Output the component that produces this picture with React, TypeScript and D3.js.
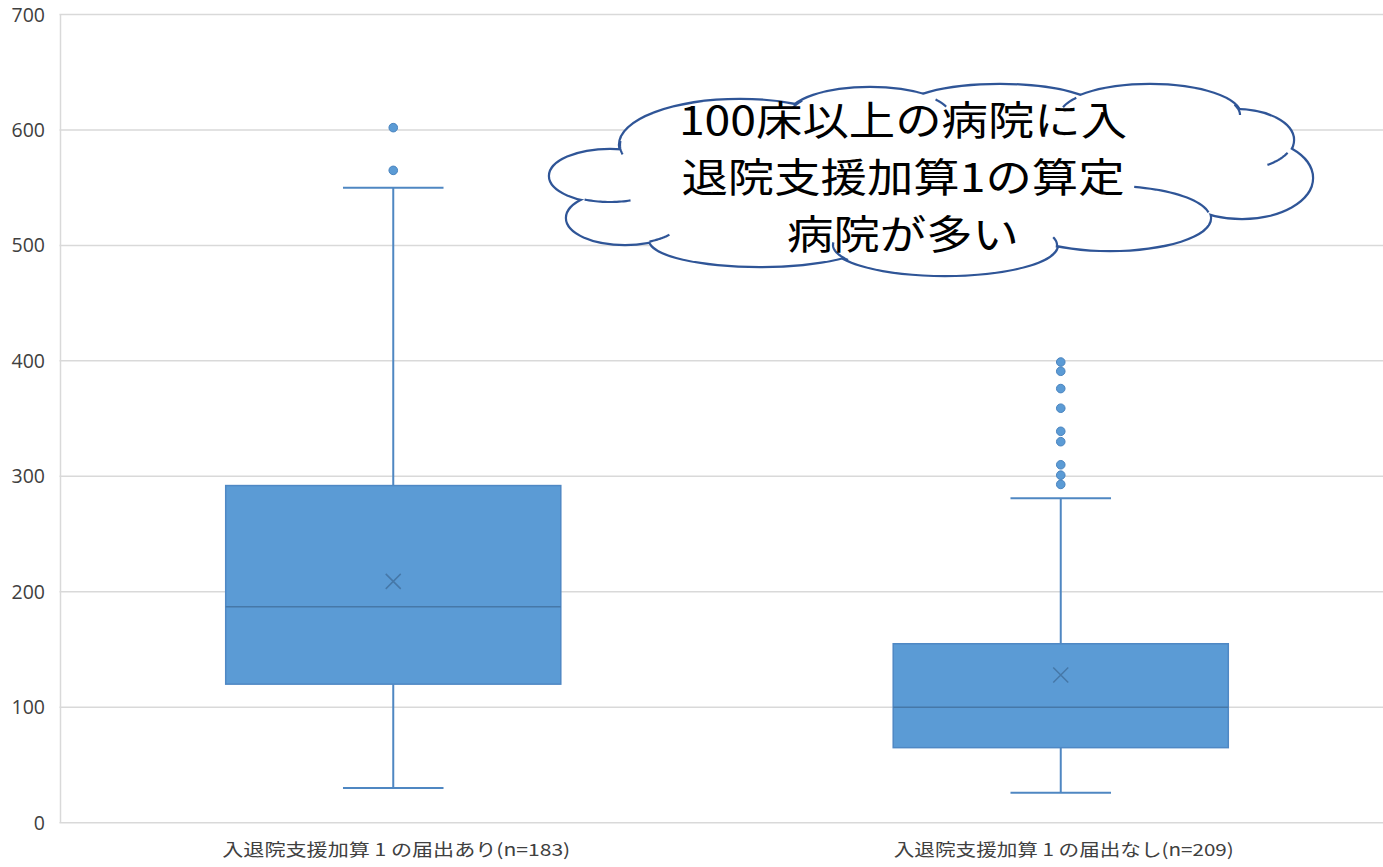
import React, { useEffect, useRef } from "react";
import * as d3 from "d3";

// categories and box stats
const categories = [
  "入退院支援加算 1 の届出あり(n=183)",
  "入退院支援加算 1 の届出なし(n=209)",
];
const whiskerLow = [30, 26];
const q1 = [120, 65];
const median = [187, 100];
const q3 = [292, 155];
const whiskerHigh = [550, 281];
const mean = [209, 128];
const outliers = [
  [602, 565],
  [399, 391, 376, 359, 339, 330, 310, 301, 293],
];
const yTicks = [0, 100, 200, 300, 400, 500, 600, 700];

const calloutLines = ["100床以上の病院に入", "退院支援加算1の算定", "病院が多い"];

// cloud callout bumps: cx, cy, rx, ry
const cloudBumps = [
  [610, 176, 60, 26],
  [740, 145, 120, 45],
  [870, 115, 80, 27],
  [1000, 112, 100, 27],
  [1150, 115, 90, 30],
  [1235, 140, 58, 30],
  [1242, 178, 70, 40],
  [1110, 218, 100, 32],
  [945, 245, 112, 30],
  [760, 240, 110, 26],
  [625, 218, 58, 26],
];
// inner arc stubs: bump index, from angle, to angle (degrees)
const cloudStubs = [
  [0, 70, 115],
  [1, 168, 185],
  [2, 195, 212],
  [2, -35, -18],
  [4, 195, 215],
  [4, -20, 0],
  [5, 25, 56],
  [7, -76, -10],
  [8, -15, 5],
  [8, 150, 185],
  [10, 40, 65],
];

const App: React.FC = () => {
  const svgRef = useRef<SVGSVGElement | null>(null);

  useEffect(() => {
    if (!svgRef.current) return;
    const width = 1383;
    const height = 867;
    const left = 59.5;
    const right = 1394.5;

    d3.select(svgRef.current).selectAll("*").remove();
    const svg = d3
      .select(svgRef.current)
      .attr("width", width)
      .attr("height", height);

    const x = d3.scaleBand().domain(categories).range([left, right]).padding(0);
    const y = d3.scaleLinear().domain([0, 700]).range([822.7, 14.5]);

    const boxW = x.bandwidth() * 0.502;
    const capW = boxW * 0.3;

    // gridlines
    svg
      .append("g")
      .selectAll("line")
      .data(yTicks)
      .enter()
      .append("line")
      .attr("x1", left)
      .attr("x2", right)
      .attr("y1", (d) => y(d))
      .attr("y2", (d) => y(d))
      .attr("stroke", "#d9d9d9")
      .attr("stroke-width", 1.5);

    svg
      .append("line")
      .attr("x1", left + 1)
      .attr("x2", left + 1)
      .attr("y1", y(700))
      .attr("y2", y(0))
      .attr("stroke", "#d9d9d9")
      .attr("stroke-width", 1.5);

    // y labels
    svg
      .append("g")
      .selectAll("text")
      .data(yTicks)
      .enter()
      .append("text")
      .attr("x", 45)
      .attr("y", (d) => y(d))
      .attr("dy", "0.36em")
      .attr("text-anchor", "end")
      .attr("fill", "#404040")
      .style("font-family", "'Open Sans', sans-serif")
      .style("font-size", "19.5px")
      .text((d) => d);

    // boxes
    categories.forEach((c, i) => {
      const cx = x(c)! + x.bandwidth() / 2;
      const g = svg.append("g");
      const lineColor = "#4f87c2";

      g.append("line")
        .attr("x1", cx)
        .attr("x2", cx)
        .attr("y1", y(whiskerHigh[i]))
        .attr("y2", y(q3[i]))
        .attr("stroke", lineColor)
        .attr("stroke-width", 2);
      g.append("line")
        .attr("x1", cx)
        .attr("x2", cx)
        .attr("y1", y(q1[i]))
        .attr("y2", y(whiskerLow[i]))
        .attr("stroke", lineColor)
        .attr("stroke-width", 2);
      [whiskerHigh[i], whiskerLow[i]].forEach((v) => {
        g.append("line")
          .attr("x1", cx - capW / 2)
          .attr("x2", cx + capW / 2)
          .attr("y1", y(v))
          .attr("y2", y(v))
          .attr("stroke", lineColor)
          .attr("stroke-width", 2);
      });

      g.append("rect")
        .attr("x", cx - boxW / 2)
        .attr("y", y(q3[i]))
        .attr("width", boxW)
        .attr("height", y(q1[i]) - y(q3[i]))
        .attr("fill", "#5b9bd5")
        .attr("stroke", "#4f88c4")
        .attr("stroke-width", 1.5);

      g.append("line")
        .attr("x1", cx - boxW / 2)
        .attr("x2", cx + boxW / 2)
        .attr("y1", y(median[i]))
        .attr("y2", y(median[i]))
        .attr("stroke", "#4678a8")
        .attr("stroke-width", 1.5);

      const my = y(mean[i]);
      const s = 7.5;
      g.append("path")
        .attr("d", `M${cx - s},${my - s}L${cx + s},${my + s}M${cx - s},${my + s}L${cx + s},${my - s}`)
        .attr("stroke", "#4678a8")
        .attr("stroke-width", 1.5)
        .attr("fill", "none");

      g.selectAll("circle")
        .data(outliers[i])
        .enter()
        .append("circle")
        .attr("cx", cx)
        .attr("cy", (d) => y(d))
        .attr("r", 4.3)
        .attr("fill", "#5b9bd5")
        .attr("stroke", "#4a84bf")
        .attr("stroke-width", 1);
    });

    // x labels
    svg
      .append("g")
      .selectAll("text")
      .data(categories)
      .enter()
      .append("text")
      .attr("x", (d) => x(d)! + x.bandwidth() / 2 + 3)
      .attr("y", 856)
      .attr("text-anchor", "middle")
      .attr("fill", "#404040")
      .attr("textLength", (_, i) => (i === 0 ? 348 : 340))
      .attr("lengthAdjust", "spacingAndGlyphs")
      .style("font-family", "'Noto Sans CJK JP', sans-serif")
      .style("font-size", "17px")
      .text((d) => d);

    // cloud callout
    const cloud = svg.append("g");
    const cloudColor = "#2f5597";
    cloud
      .selectAll("ellipse.o")
      .data(cloudBumps)
      .enter()
      .append("ellipse")
      .attr("cx", (d) => d[0])
      .attr("cy", (d) => d[1])
      .attr("rx", (d) => d[2])
      .attr("ry", (d) => d[3])
      .attr("fill", "white")
      .attr("stroke", cloudColor)
      .attr("stroke-width", 4.4);
    cloud
      .selectAll("ellipse.i")
      .data(cloudBumps)
      .enter()
      .append("ellipse")
      .attr("cx", (d) => d[0])
      .attr("cy", (d) => d[1])
      .attr("rx", (d) => d[2])
      .attr("ry", (d) => d[3])
      .attr("fill", "white");
    cloud
      .append("path")
      .attr("d", "M" + cloudBumps.map((d) => `${d[0]},${d[1]}`).join("L") + "Z")
      .attr("fill", "white");

    const stubPath = (b: number[], a0: number, a1: number) => {
      const pts = d3.range(0, 21).map((k) => {
        const t = ((a0 + ((a1 - a0) * k) / 20) * Math.PI) / 180;
        return [b[0] + b[2] * Math.cos(t), b[1] + b[3] * Math.sin(t)] as [number, number];
      });
      return d3.line()(pts)!;
    };
    cloud
      .selectAll("path.stub")
      .data(cloudStubs)
      .enter()
      .append("path")
      .attr("d", (s) => stubPath(cloudBumps[s[0]], s[1], s[2]))
      .attr("fill", "none")
      .attr("stroke", cloudColor)
      .attr("stroke-width", 2.2);

    const tx = 903;
    cloud
      .append("g")
      .attr("transform", `translate(${tx},0) scale(1.16,1)`)
      .selectAll("text")
      .data(calloutLines)
      .enter()
      .append("text")
      .attr("x", 0)
      .attr("y", (_, i) => 135 + i * 57)
      .attr("text-anchor", "middle")
      .attr("fill", "#000")
      .style("font-family", "'Noto Sans CJK JP', sans-serif")
      .style("font-size", "40px")
      .text((d) => d);
  }, []);

  return (
    <div style={{ position: "absolute", left: 0, top: 0, background: "#fff" }}>
      <svg ref={svgRef} style={{ display: "block" }}></svg>
    </div>
  );
};

export default App;
